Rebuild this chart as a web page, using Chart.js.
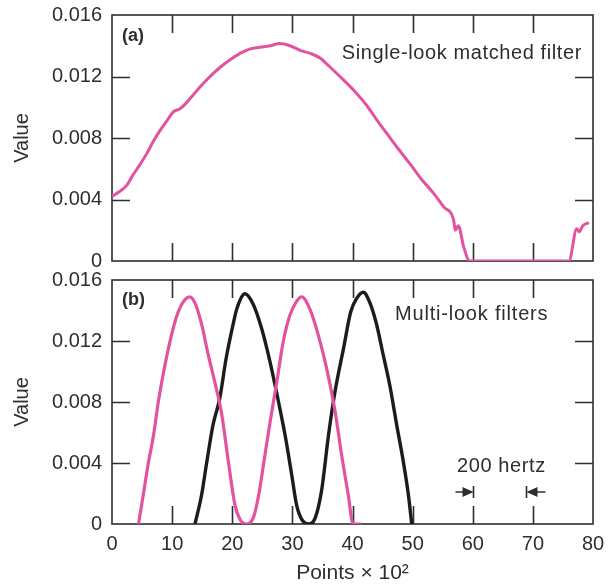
<!DOCTYPE html>
<html>
<head>
<meta charset="utf-8">
<script src="https://cdn.jsdelivr.net/npm/chart.js@4"></script>
<style>
  body { margin: 0; background: #fff; }
  #wrap { position: relative; width: 615px; height: 587px; }
  #topBox { position: absolute; left: 0; top: 0; width: 615px; height: 274px; }
  #bottomBox { position: absolute; left: 0; top: 268px; width: 615px; height: 319px; }
</style>
</head>
<body>
<div id="wrap">
  <div id="topBox"><canvas id="topChart"></canvas></div>
  <div id="bottomBox"><canvas id="bottomChart"></canvas></div>
</div>
<script>
// (a) single-look matched filter
const singleX = [0, 1.2, 2.4, 3.5, 4.7, 5.8, 6.9, 8.0, 9.1, 10.2, 11.3, 12.4, 13.5, 14.6, 16.3, 18.0,
  19.7, 21.3, 23.0, 24.6, 26.3, 27.9, 29.6, 31.3, 33.0, 34.6, 36.3, 37.9, 40.2, 42.4, 44.0, 45.7,
  47.6, 49.6, 51.5, 53.5, 55.2, 56.8, 57.1, 57.6, 58.5, 59.5, 76.0, 77.3, 77.7, 78.3, 79.3];
const singleY = [0.0042, 0.0045, 0.0049, 0.0056, 0.0063, 0.0070, 0.0078, 0.0085, 0.0091, 0.0097, 0.0099,
  0.0103, 0.0108, 0.0113, 0.0120, 0.0126, 0.0131, 0.0135, 0.0138, 0.0139, 0.0140, 0.01415, 0.0140,
  0.0137, 0.0135, 0.0132, 0.0126, 0.0120, 0.0111, 0.0101, 0.0092, 0.0083, 0.0073, 0.0063, 0.0053,
  0.0044, 0.0035, 0.0027, 0.0020, 0.0023, 0.0009, 0, 0, 0.0021, 0.0019, 0.0023, 0.0025];

// (b) multi-look filters: pink looks and black looks
const pinkX = [4.4, 5.2, 6.0, 6.9, 7.7, 8.8, 9.9, 11.0, 12.1, 12.9, 13.8, 14.9, 16.0, 17.1, 18.25, 19.35,
  20.45, 21.3, 22.4, 23.5, 24.4, 25.2, 26.3, 27.4, 28.5, 29.6, 30.7, 31.55, 32.9, 34.3, 35.7, 37.1,
  38.2, 39.3, 40.1, 41.5];
const pinkY = [0, 0.0019, 0.0039, 0.0058, 0.0080, 0.0104, 0.0124, 0.0139, 0.0147, 0.0149, 0.0145, 0.0131,
  0.0111, 0.0093, 0.0072, 0.0041, 0.00125, 0.0003, 0, 0.0004, 0.0019, 0.0039, 0.0067, 0.0093, 0.0120,
  0.0137, 0.0146, 0.0149, 0.0141, 0.0124, 0.0102, 0.0074, 0.0045, 0.0019, 0, 0];
const blackX = [13.8, 14.9, 15.7, 16.8, 17.9, 19.0, 20.15, 20.75, 22.1, 23.5, 24.9, 26.3, 27.7, 28.8, 29.9,
  30.7, 31.55, 32.65, 33.8, 34.9, 36.0, 37.1, 38.5, 39.7, 40.7, 41.8, 42.9, 44.0, 45.1, 46.2, 47.35,
  48.45, 49.3, 49.85];
const blackY = [0, 0.0019, 0.0039, 0.0065, 0.0082, 0.0109, 0.0131, 0.0141, 0.0151, 0.0144, 0.0128, 0.0106,
  0.0080, 0.0058, 0.0032, 0.00125, 0.0003, 0, 0.0004, 0.0023, 0.0058, 0.0087, 0.0115, 0.0139, 0.0148,
  0.0152, 0.0145, 0.0131, 0.0111, 0.0091, 0.0065, 0.0041, 0.0019, 0];

const xTicks = [0, 10, 20, 30, 40, 50, 60, 70, 80];
const yTicks = [0, 0.004, 0.008, 0.012, 0.016];
const hertzMark = [60, 68.85]; // "200 hertz" markers

const PINK = '#e2529f';
const INK = '#2e2e2e';
const FONT = '"Liberation Sans", Arial, sans-serif';

function toPoints(xs, ys) {
  return xs.map((x, i) => ({ x: x, y: ys[i] }));
}

// frame + inward tick marks
const frameTicks = {
  id: 'frameTicks',
  beforeDatasetsDraw(chart) {
    const { ctx, chartArea: a, scales: { x, y } } = chart;
    const len = 18;
    ctx.save();
    ctx.strokeStyle = INK;
    ctx.lineWidth = 1.6;
    ctx.strokeRect(a.left, a.top, a.width, a.height);
    ctx.beginPath();
    xTicks.forEach(v => {
      if (v <= x.min || v >= x.max) return;
      const px = Math.round(x.getPixelForValue(v)) + 0.5;
      ctx.moveTo(px, a.top); ctx.lineTo(px, a.top + len);
      ctx.moveTo(px, a.bottom); ctx.lineTo(px, a.bottom - len);
    });
    yTicks.forEach(v => {
      if (v <= y.min || v >= y.max) return;
      const py = Math.round(y.getPixelForValue(v)) + 0.5;
      ctx.moveTo(a.left, py); ctx.lineTo(a.left + len, py);
      ctx.moveTo(a.right, py); ctx.lineTo(a.right - len, py);
    });
    ctx.stroke();
    ctx.restore();
  }
};

// panel labels and notes
const notes = {
  id: 'notes',
  afterDraw(chart, args, opts) {
    const { ctx, chartArea: a, scales: { x } } = chart;
    ctx.save();
    ctx.fillStyle = INK;
    ctx.textBaseline = 'middle';
    (opts.items || []).forEach(it => {
      ctx.font = it.font;
      ctx.letterSpacing = it.spacing || '0px';
      ctx.textAlign = it.align || 'left';
      const px = it.align === 'right' ? a.right - it.dx : a.left + it.dx;
      ctx.fillText(it.text, px, a.top + it.dy);
    });
    if (opts.hertz) {
      const yy = a.top + 212;
      const x1 = Math.round(x.getPixelForValue(hertzMark[0])) + 0.5;
      const x2 = Math.round(x.getPixelForValue(hertzMark[1])) + 0.5;
      ctx.strokeStyle = INK;
      ctx.lineWidth = 1.6;
      ctx.beginPath();
      ctx.moveTo(x1, yy - 6); ctx.lineTo(x1, yy + 6);
      ctx.moveTo(x1 - 18, yy); ctx.lineTo(x1 - 4, yy);
      ctx.moveTo(x2, yy - 6); ctx.lineTo(x2, yy + 6);
      ctx.moveTo(x2 + 4, yy); ctx.lineTo(x2 + 19, yy);
      ctx.stroke();
      ctx.beginPath();
      ctx.moveTo(x1, yy); ctx.lineTo(x1 - 11, yy - 5); ctx.lineTo(x1 - 11, yy + 5); ctx.closePath();
      ctx.moveTo(x2, yy); ctx.lineTo(x2 + 11, yy - 5); ctx.lineTo(x2 + 11, yy + 5); ctx.closePath();
      ctx.fill();
    }
    ctx.restore();
  }
};

function yScale() {
  return {
    min: 0, max: 0.016,
    afterFit: s => { s.width = 112; s.paddingTop = 0; s.paddingBottom = 0; },
    afterBuildTicks: s => { s.ticks = yTicks.map(v => ({ value: v })); },
    grid: { display: false, drawTicks: false },
    border: { display: false },
    ticks: {
      padding: 10, color: INK,
      font: { family: FONT, size: 20 },
      callback: v => v === 0 ? '0' : v.toFixed(3)
    },
    title: { display: true, text: 'Value', color: INK, font: { family: FONT, size: 20 }, padding: { top: 10, bottom: 0 } }
  };
}

function lineSet(label, xs, ys, color, width) {
  return {
    label: label, data: toPoints(xs, ys), borderColor: color, borderWidth: width,
    pointRadius: 0, fill: false, cubicInterpolationMode: 'monotone'
  };
}

Chart.defaults.animation = false;

new Chart(document.getElementById('topChart'), {
  type: 'line',
  data: { datasets: [lineSet('Single-look matched filter', singleX, singleY, PINK, 3)] },
  options: {
    responsive: true, maintainAspectRatio: false,
    layout: { padding: { top: 15, right: 22, left: 0, bottom: 0 } },
    plugins: {
      legend: { display: false }, tooltip: { enabled: false },
      notes: {
        items: [
          { text: '(a)', font: 'bold 18px ' + FONT, dx: 10, dy: 21 },
          { text: 'Single-look matched filter', font: '20px ' + FONT, spacing: '0.6px', align: 'right', dx: 11, dy: 38 }
        ]
      }
    },
    scales: {
      x: {
        type: 'linear', min: 0, max: 80,
        afterFit: s => { s.height = 13; },
        grid: { display: false, drawTicks: false }, border: { display: false },
        ticks: { display: false }
      },
      y: yScale()
    }
  },
  plugins: [frameTicks, notes]
});

new Chart(document.getElementById('bottomChart'), {
  type: 'line',
  data: {
    datasets: [
      lineSet('Looks 1, 3', pinkX, pinkY, PINK, 3.2),
      lineSet('Looks 2, 4', blackX, blackY, '#1c1c1c', 3.4)
    ]
  },
  options: {
    responsive: true, maintainAspectRatio: false,
    layout: { padding: { top: 12, right: 22, left: 0, bottom: 0 } },
    plugins: {
      legend: { display: false }, tooltip: { enabled: false },
      notes: {
        hertz: true,
        items: [
          { text: '(b)', font: 'bold 18px ' + FONT, dx: 10, dy: 20 },
          { text: 'Multi-look filters', font: '20px ' + FONT, spacing: '0.8px', dx: 283, dy: 34 },
          { text: '200 hertz', font: '20px ' + FONT, spacing: '0.6px', dx: 345, dy: 186 }
        ]
      }
    },
    scales: {
      x: {
        type: 'linear', min: 0, max: 80,
        afterFit: s => { s.height = 63; },
        afterBuildTicks: s => { s.ticks = xTicks.map(v => ({ value: v })); },
        grid: { display: false, drawTicks: false }, border: { display: false },
        ticks: { padding: 8, color: INK, font: { family: FONT, size: 20 } },
        title: { display: true, text: 'Points × 10²', color: INK, font: { family: FONT, size: 21 }, padding: { top: 0, bottom: 1 } }
      },
      y: yScale()
    }
  },
  plugins: [frameTicks, notes]
});
</script>
</body>
</html>
